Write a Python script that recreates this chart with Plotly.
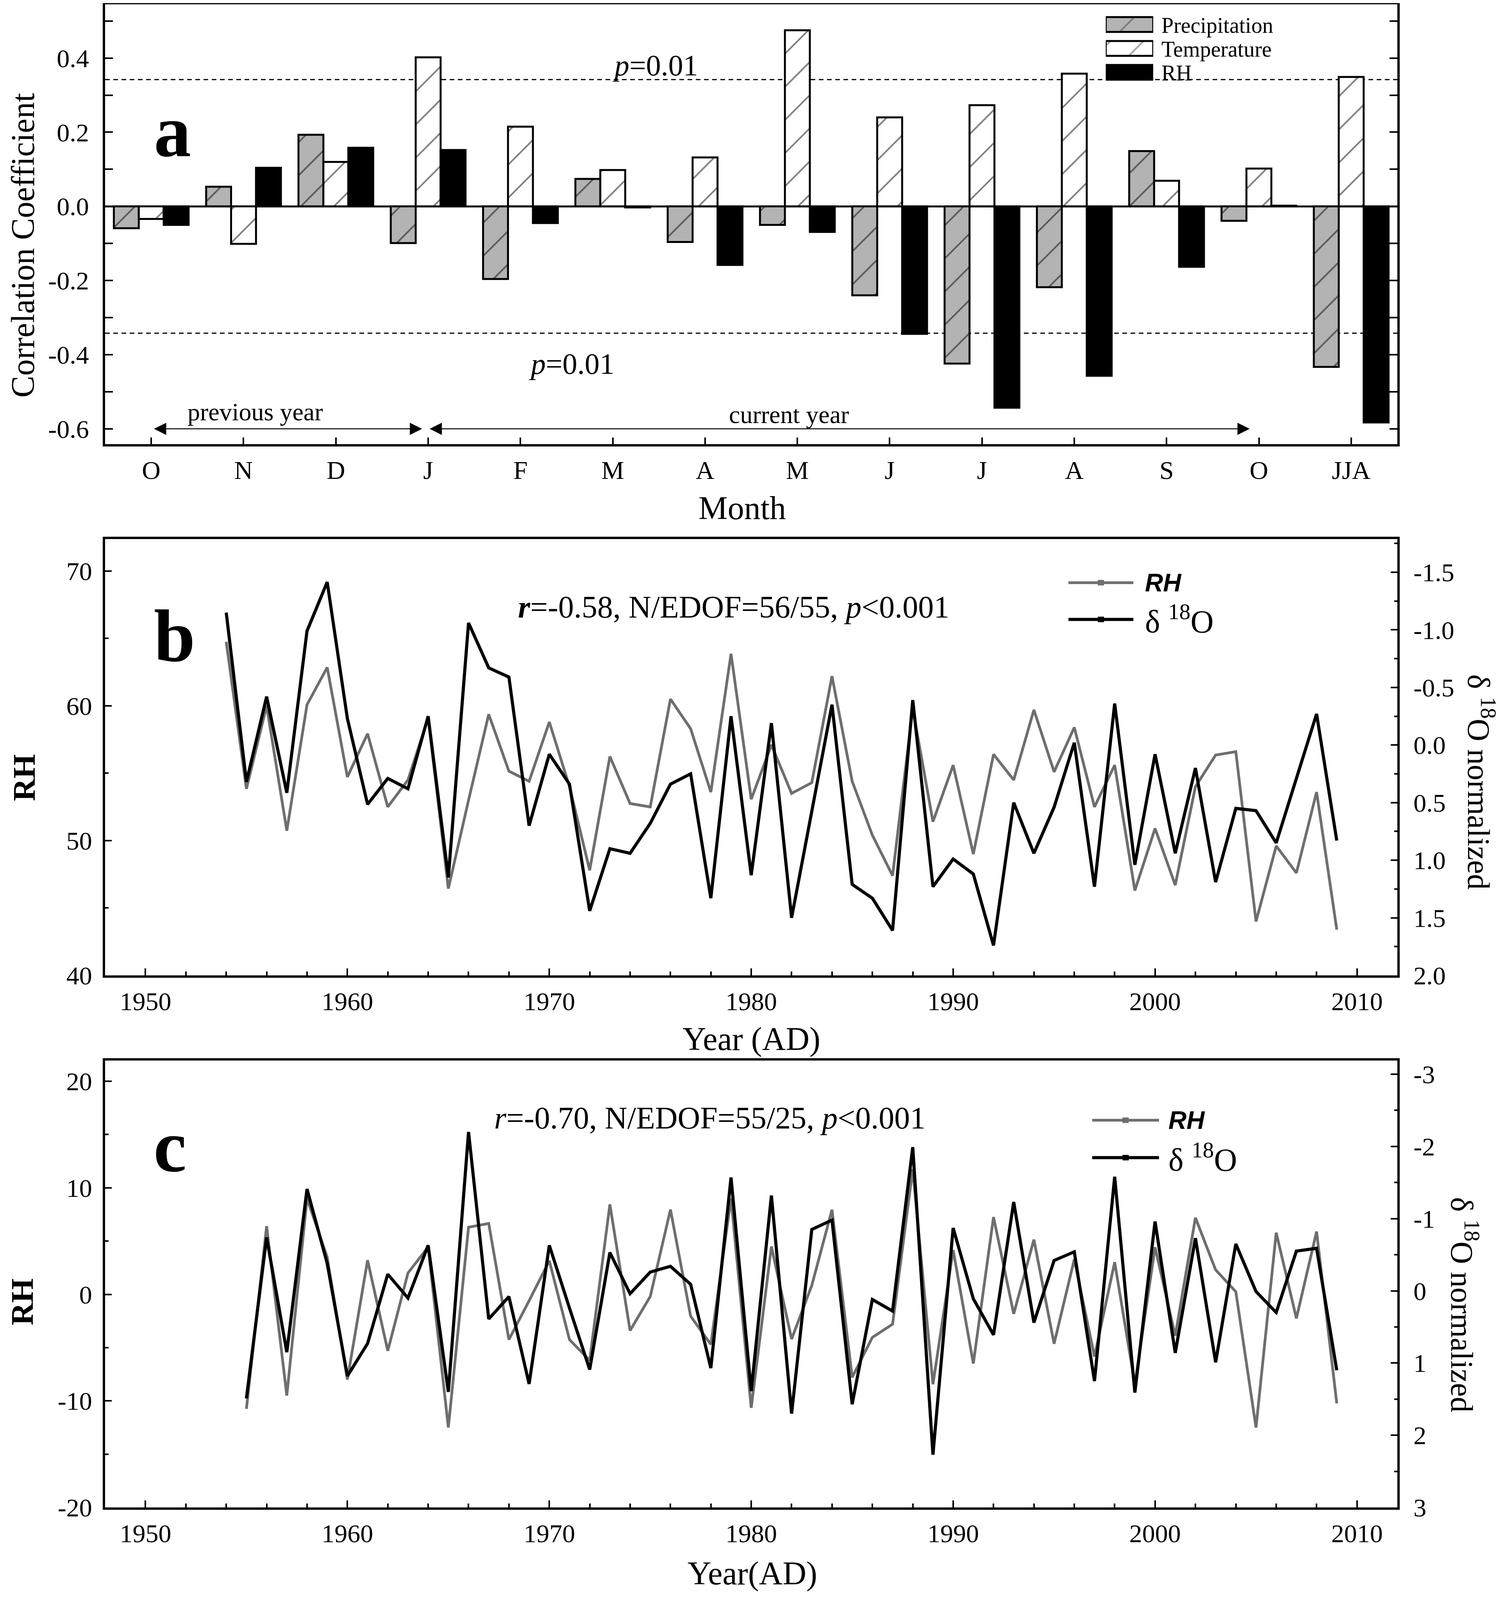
import plotly.graph_objects as go

# ---- panel a: correlation of tree-ring d18O with monthly climate ----
months = ["O", "N", "D", "J", "F", "M", "A", "M", "J", "J", "A", "S", "O", "JJA"]
precip_r = [-0.059, 0.053, 0.193, -0.099, -0.196, 0.074, -0.096,
            -0.050, -0.240, -0.424, -0.218, 0.149, -0.039, -0.433]
temp_r = [-0.034, -0.101, 0.120, 0.402, 0.215, 0.098, 0.132,
          0.475, 0.240, 0.273, 0.358, 0.069, 0.102, 0.349]
rh_r = [-0.050, 0.104, 0.158, 0.152, -0.045, -0.003, -0.158,
        -0.069, -0.344, -0.543, -0.457, -0.163, 0.002, -0.583]
p01 = 0.342
corr_ticks = [-0.6, -0.4, -0.2, 0.0, 0.2, 0.4]

# ---- panel b: RH vs d18O (raw) ----
years_b = list(range(1954, 2010))
rh_b = [64.75, 53.84, 60.0, 50.73, 60.08, 62.85, 54.72, 57.93, 52.5, 54.5,
        59.1, 46.44, 53.0, 59.37, 55.15, 54.4, 58.8, 54.0, 47.8, 56.24,
        52.75, 52.5, 60.5, 58.3, 53.6, 63.86, 53.07, 57.1, 53.5, 54.3,
        62.2, 54.4, 50.4, 47.4, 59.8, 51.4, 55.6, 49.0, 56.4, 54.5,
        59.7, 55.1, 58.4, 52.5, 55.6, 46.3, 50.9, 46.7, 54.0, 56.35,
        56.6, 44.0, 49.6, 47.6, 53.6, 43.4]
d18o_b = [-1.15, 0.32, -0.42, 0.415, -0.99, -1.415, -0.23, 0.515, 0.29, 0.38,
          -0.25, 1.15, -1.06, -0.67, -0.59, 0.70, 0.08, 0.34, 1.44, 0.90,
          0.94, 0.68, 0.34, 0.25, 1.33, -0.25, 1.13, -0.19, 1.50, 0.58,
          -0.35, 1.21, 1.33, 1.61, -0.39, 1.23, 0.99, 1.12, 1.74, 0.50,
          0.94, 0.54, -0.02, 1.23, -0.36, 1.04, 0.08, 0.94, 0.20, 1.19,
          0.55, 0.57, 0.85, 0.29, -0.27, 0.83]

# ---- panel c: RH vs d18O (high-frequency) ----
years_c = list(range(1955, 2010))
rh_c = [-10.75, 6.4, -9.5, 9.0, 3.5, -8.0, 3.2, -5.3, 2.0, 4.45,
        -12.5, 6.3, 6.65, -4.25, -0.6, 3.15, -4.25, -6.2, 8.44, -3.4,
        -0.2, 7.95, -2.05, -4.7, 9.0, -10.65, 4.49, -4.2, 0.84, 7.94,
        -7.79, -4.04, -2.8, 11.75, -8.44, 4.16, -6.49, 7.25, -1.83, 5.14,
        -4.63, 3.28, -5.84, 3.02, -8.44, 4.42, -3.88, 7.19, 2.3, 0.25,
        -12.5, 5.79, -2.25, 5.89, -10.23]
d18o_c = [1.49, -0.74, 0.85, -1.41, -0.38, 1.18, 0.73, -0.23, 0.10, -0.63,
          1.40, -2.20, 0.39, 0.08, 1.29, -0.63, 0.24, 1.09, -0.53, 0.04,
          -0.26, -0.34, -0.09, 1.07, -1.57, 1.39, -1.32, 1.70, -0.85, -0.98,
          1.57, 0.12, 0.28, -1.99, 2.27, -0.87, 0.11, 0.61, -1.23, 0.44,
          -0.42, -0.54, 1.25, -1.58, 1.41, -0.96, 0.86, -0.73, 0.99, -0.65,
          0.01, 0.30, -0.55, -0.59, 1.10]

year_ticks = [1950, 1960, 1970, 1980, 1990, 2000, 2010]
rh_b_ticks = [40, 50, 60, 70]
d18o_b_ticks = [-1.5, -1.0, -0.5, 0.0, 0.5, 1.0, 1.5, 2.0]
rh_c_ticks = [-20, -10, 0, 10, 20]
d18o_c_ticks = [-3, -2, -1, 0, 1, 2, 3]

# design grid in pixels of the 3850 x 4611 reference; the page itself
# fills the browser window, so everything is placed in paper units
W, H = 3850, 4611
ML, MR, MT, MB = 261, 265, 3, 229
SERIF = "Liberation Serif"
SANS = "Liberation Sans"
GRAY_BAR = "#b3b3b3"
GRAY_LINE = "#6e6e6e"
TICK_SIZE = 66


def paper(X, Y):
    # pixel position in the reference -> paper coordinates
    return (X - ML) / (W - ML - MR), (H - MB - Y) / (H - MT - MB)


def labels(vals, fmt):
    return [fmt.format(v) for v in vals]


def axis(**kw):
    base = dict(showline=True, linewidth=6, linecolor="black", ticks="inside",
                tickwidth=4, tickcolor="black", showgrid=False, zeroline=False,
                tickfont=dict(family=SERIF, size=TICK_SIZE, color="black"))
    base.update(kw)
    return base


def minor(dtick, tick0, length):
    return dict(tickmode="linear", tick0=tick0, dtick=dtick, ticklen=length,
                tickwidth=4, tickcolor="black", ticks="inside")


dom_a = [paper(0, 1284)[1], 1.0]
dom_b = [paper(0, 2832)[1], paper(0, 1561)[1]]
dom_c = [0.0, paper(0, 3080)[1]]

fig = go.Figure()

hatch = dict(shape="/", fgcolor="black", fillmode="overlay", size=60, solidity=0.07)
xs = list(range(1, len(months) + 1))
fig.add_trace(go.Bar(x=xs, y=precip_r, name="Precipitation", xaxis="x", yaxis="y",
                     marker=dict(color=GRAY_BAR, pattern=hatch, line=dict(color="black", width=5))))
fig.add_trace(go.Bar(x=xs, y=temp_r, name="Temperature", xaxis="x", yaxis="y",
                     marker=dict(color="white", pattern=hatch, line=dict(color="black", width=5))))
fig.add_trace(go.Bar(x=xs, y=rh_r, name="RH", xaxis="x", yaxis="y",
                     marker=dict(color="black", line=dict(color="black", width=5))))

# legend patches for panel a (small bar subplot so the hatching matches)
fig.add_trace(go.Bar(x=[1, 1, 1], y=[0, 1, 2], orientation="h", base=0, width=0.62,
                     xaxis="x4", yaxis="y6", hoverinfo="skip",
                     marker=dict(color=[GRAY_BAR, "white", "black"],
                                 pattern=dict(shape=["/", "/", ""], fgcolor="black",
                                              fillmode="overlay", size=60, solidity=0.07),
                                 line=dict(color="black", width=5))))

fig.add_trace(go.Scatter(x=years_b, y=rh_b, mode="lines", xaxis="x2", yaxis="y2",
                         line=dict(color=GRAY_LINE, width=7)))
fig.add_trace(go.Scatter(x=years_b, y=d18o_b, mode="lines", xaxis="x2", yaxis="y3",
                         line=dict(color="black", width=8)))
fig.add_trace(go.Scatter(x=years_c, y=rh_c, mode="lines", xaxis="x3", yaxis="y4",
                         line=dict(color=GRAY_LINE, width=7)))
fig.add_trace(go.Scatter(x=years_c, y=d18o_c, mode="lines", xaxis="x3", yaxis="y5",
                         line=dict(color="black", width=8)))

fig.update_layout(
    autosize=True, margin=dict(l=ML, r=MR, t=MT, b=MB, autoexpand=False),
    paper_bgcolor="white", plot_bgcolor="rgba(0,0,0,0)",
    showlegend=False, barmode="group", bargap=0.19, bargroupgap=0,
    font=dict(family=SERIF, color="black"),
    xaxis=axis(domain=[0, 1], anchor="y", range=[0.5, 14.5], tickmode="array",
               tickvals=xs, ticktext=months, ticklen=17, mirror=True,
               ticklabelstandoff=4),
    yaxis=axis(domain=dom_a, anchor="x", range=[-0.641, 0.545], tickmode="array",
               tickvals=corr_ticks, ticktext=labels(corr_ticks, "{:.1f}"),
               ticklen=20, mirror="ticks", minor=minor(0.1, 0, 20),
               zeroline=True, zerolinewidth=5, zerolinecolor="black",
               ticklabelstandoff=22),
    xaxis2=axis(domain=[0, 1], anchor="y2", range=[1948, 2012], tickmode="array",
                tickvals=year_ticks, ticktext=labels(year_ticks, "{}"), ticklen=18,
                mirror=True, minor=minor(2, 1950, 10), ticklabelstandoff=4),
    yaxis2=axis(domain=dom_b, anchor="x2", range=[40, 72.37], tickmode="array",
                tickvals=rh_b_ticks, ticktext=labels(rh_b_ticks, "{}"), ticklen=17,
                minor=minor(5, 40, 9), ticklabelstandoff=14),
    yaxis3=axis(overlaying="y2", side="right", anchor="x2", range=[2.0, -1.788],
                tickmode="array", tickvals=d18o_b_ticks,
                ticktext=labels(d18o_b_ticks, "{:.1f}"), ticklen=17,
                minor=minor(0.25, 0, 8), ticklabelstandoff=22),
    xaxis3=axis(domain=[0, 1], anchor="y4", range=[1948, 2012], tickmode="array",
                tickvals=year_ticks, ticktext=labels(year_ticks, "{}"), ticklen=18,
                mirror=True, minor=minor(2, 1950, 10), ticklabelstandoff=4),
    yaxis4=axis(domain=dom_c, anchor="x3", range=[-20, 21.95], tickmode="array",
                tickvals=rh_c_ticks, ticktext=labels(rh_c_ticks, "{}"), ticklen=17,
                minor=minor(5, 0, 9), ticklabelstandoff=14),
    yaxis5=axis(overlaying="y4", side="right", anchor="x3", range=[3.0, -3.19],
                tickmode="array", tickvals=d18o_c_ticks,
                ticktext=labels(d18o_c_ticks, "{}"), ticklen=17,
                minor=minor(0.5, 0, 8), ticklabelstandoff=22),
    xaxis4=dict(domain=[paper(2835, 0)[0], paper(2957, 0)[0]], anchor="y6",
                range=[0, 1], visible=False, fixedrange=True),
    yaxis6=dict(domain=[paper(0, 236)[1], paper(0, 27)[1]], anchor="x4",
                range=[2.5, -0.5], visible=False, fixedrange=True),
)

# significance lines in panel a
for lvl in (p01, -p01):
    fig.add_shape(type="line", xref="x domain", yref="y", x0=0, x1=1, y0=lvl, y1=lvl,
                  line=dict(color="black", width=3, dash="12px,9px"), layer="below")

# period arrows in panel a
arrow = dict(xref="x", yref="y", axref="x", ayref="y", text="", showarrow=True,
             arrowhead=2, startarrowhead=2, arrowside="end+start", arrowwidth=2.5,
             arrowsize=2.5, startarrowsize=2.5, arrowcolor="black")
fig.add_annotation(x=1.03, y=-0.6, ax=3.94, ay=-0.6, **arrow)
fig.add_annotation(x=12.90, y=-0.6, ax=4.01, ay=-0.6, **arrow)


def note(text, X, Y, size, family=SERIF, angle=0, xanchor="center"):
    px, py = paper(X, Y)
    fig.add_annotation(x=px, y=py, xref="paper", yref="paper", text=text,
                       showarrow=False, textangle=angle, xanchor=xanchor,
                       yanchor="middle", font=dict(family=family, size=size, color="black"))


# panel letters
note("<b>a</b>", 434, 373, 190)
note("<b>b</b>", 440, 1844, 190)
note("<b>c</b>", 428, 3329, 190)

# panel a texts
note("<i>p</i>=0.01", 1676, 180, 76)
note("<i>p</i>=0.01", 1461, 1050, 76)
note("previous year", 647, 1190, 64)
note("current year", 2020, 1198, 64)
note("Precipitation", 2976, 64, 56, xanchor="left")
note("Temperature", 2976, 134, 56, xanchor="left")
note("RH", 2976, 203, 56, xanchor="left")

# statistics
note("<b><i>r</i></b>=-0.58, N/EDOF=56/55, <i>p</i>&lt;0.001", 1878, 1759, 80)
note("<i>r</i>=-0.70, N/EDOF=55/25, <i>p</i>&lt;0.001", 1816, 3247, 80)

# axis titles
note("Month", 1900, 1470, 84)
note("Year (AD)", 1923, 3018, 84)
note("Year(AD)", 1926, 4574, 84)
note("Correlation Coefficient", 50, 705, 84, angle=-90)
note("<b>RH</b>", 53, 2256, 80, angle=-90)
note("<b>RH</b>", 48, 3783, 80, angle=-90)
note("δ <sup>18</sup>O normalized", 3800, 2269, 80, angle=90)
note("δ <sup>18</sup>O normalized", 3757, 3791, 80, angle=90)


# line legends for panels b and c
def legend_line(X0, X1, Y, color, width):
    x0, y = paper(X0, Y)
    x1, _ = paper(X1, Y)
    fig.add_shape(type="line", xref="paper", yref="paper", x0=x0, x1=x1, y0=y, y1=y,
                  line=dict(color=color, width=width))
    xm, _ = paper((X0 + X1) / 2 - 8, Y)
    xn, _ = paper((X0 + X1) / 2 + 8, Y)
    _, ya = paper(0, Y - 8)
    _, yb = paper(0, Y + 8)
    fig.add_shape(type="rect", xref="paper", yref="paper", x0=xm, x1=xn, y0=yb, y1=ya,
                  fillcolor=color, line=dict(width=0))


legend_line(2739, 2906, 1688, GRAY_LINE, 7)
legend_line(2739, 2906, 1795, "black", 8)
note("<b><i>RH</i></b>", 2934, 1688, 64, family=SANS, xanchor="left")
note("δ <sup>18</sup>O", 2934, 1795, 82, xanchor="left")

legend_line(2800, 2972, 3254, GRAY_LINE, 7)
legend_line(2800, 2972, 3363, "black", 8)
note("<b><i>RH</i></b>", 2994, 3254, 64, family=SANS, xanchor="left")
note("δ <sup>18</sup>O", 2994, 3363, 82, xanchor="left")

fig.write_html("out.html", config={"responsive": True},
               default_width="calc(100vw - 16px)", default_height="calc(100vh - 16px)")
